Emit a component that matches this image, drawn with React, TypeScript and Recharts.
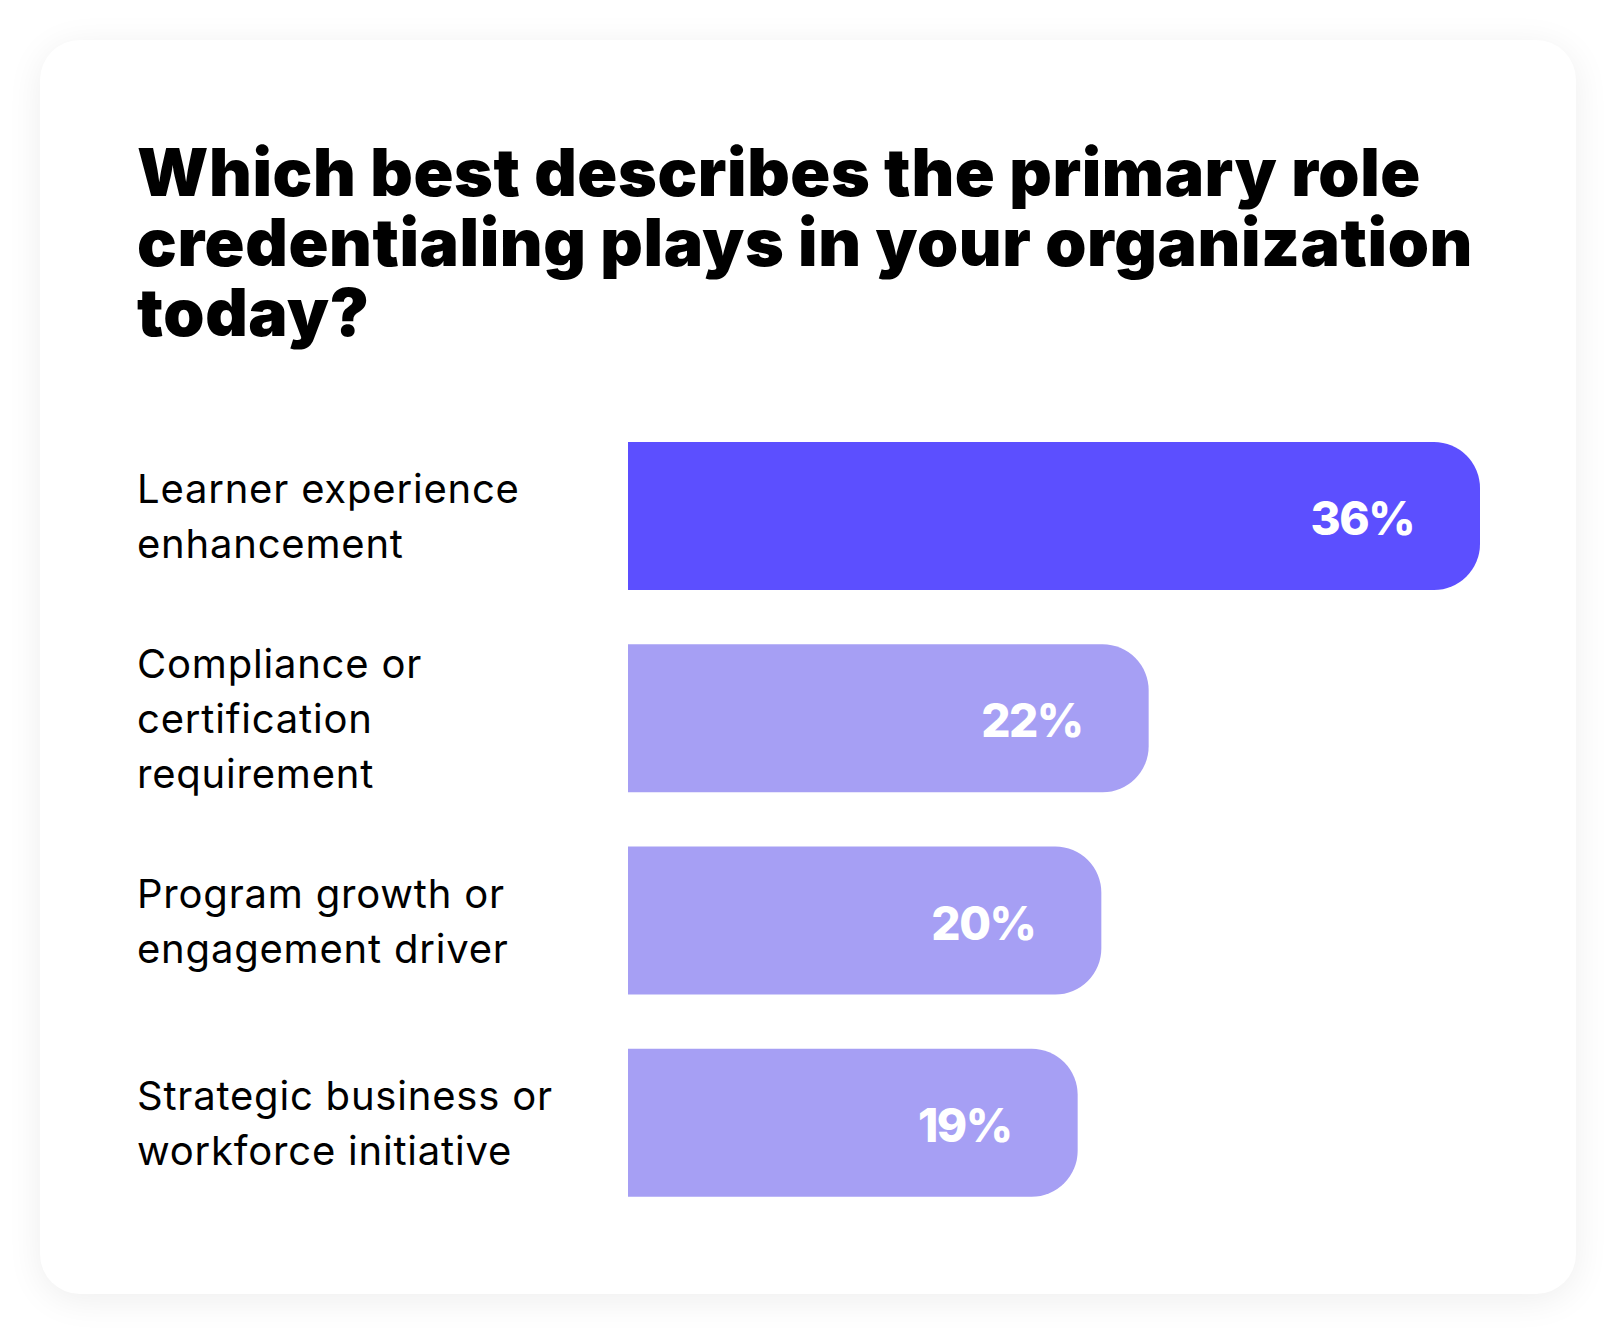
import React from 'react';
import { BarChart, Bar, XAxis, YAxis, Cell, LabelList } from 'recharts';

const titleLines = [
  'Which best describes the primary role',
  'credentialing plays in your organization',
  'today?',
];

const categories = [
  'Learner experience\nenhancement',
  'Compliance or\ncertification\nrequirement',
  'Program growth or\nengagement driver',
  'Strategic business or\nworkforce initiative',
];

const shares = [36, 22, 20, 19];

const barColors = ['#5c4fff', '#a69ff4', '#a69ff4', '#a69ff4'];

const data = categories.map((name, i) => ({ name, value: shares[i] }));

const LINE_GAP = 55;
const CAP = 29;

const CategoryTick = ({ y, payload }: any) => {
  const lines = String(payload.value).split('\n');
  const first = y - ((lines.length - 1) * LINE_GAP - CAP) / 2;
  return (
    <text
      x={137}
      y={first}
      fill="#000"
      fontSize={40}
      fontFamily="Inter"
      fontWeight={400}
      letterSpacing={0.8}
      textAnchor="start"
    >
      {lines.map((line, i) => (
        <tspan key={i} x={137} y={first + i * LINE_GAP}>
          {line}
        </tspan>
      ))}
    </text>
  );
};

const ValueLabel = ({ x, y, width, height, value }: any) => (
  <text
    x={x + width - 66}
    y={y + height / 2 + 2}
    fill="#fff"
    fontSize={46}
    fontFamily="Inter"
    fontWeight={800}
    letterSpacing={-1.5}
    textAnchor="end"
    dominantBaseline="central"
  >
    {value}%
  </text>
);

export default function App() {
  return (
    <div style={{ position: 'absolute', left: 0, top: 0, width: 1616, height: 1334, background: '#fff' }}>
      <div
        style={{
          position: 'absolute',
          left: 40,
          top: 40,
          width: 1536,
          height: 1254,
          borderRadius: 40,
          background: '#fff',
          boxShadow: '0 6px 36px rgba(0,0,0,0.07)',
        }}
      />
      <div
        style={{
          position: 'absolute',
          left: 137,
          top: 137,
          whiteSpace: 'nowrap',
          fontFamily: 'Inter',
          fontWeight: 900,
          fontSize: 66,
          letterSpacing: 0.6,
          lineHeight: '70px',
          color: '#000',
        }}
      >
        {titleLines.map((line) => (
          <div key={line}>{line}</div>
        ))}
      </div>
      <div style={{ position: 'absolute', left: 0, top: 0 }}>
        <BarChart
          width={1616}
          height={1334}
          data={data}
          layout="vertical"
          margin={{ top: 415, right: 136, bottom: 110, left: 0 }}
        >
          <XAxis type="number" domain={[0, 36]} hide />
          <YAxis
            type="category"
            dataKey="name"
            width={628}
            axisLine={false}
            tickLine={false}
            tick={<CategoryTick />}
          />
          <Bar dataKey="value" barSize={148} radius={[0, 46, 46, 0]} isAnimationActive={false}>
            {data.map((d, i) => (
              <Cell key={d.name} fill={barColors[i]} />
            ))}
            <LabelList dataKey="value" content={<ValueLabel />} />
          </Bar>
        </BarChart>
      </div>
    </div>
  );
}
